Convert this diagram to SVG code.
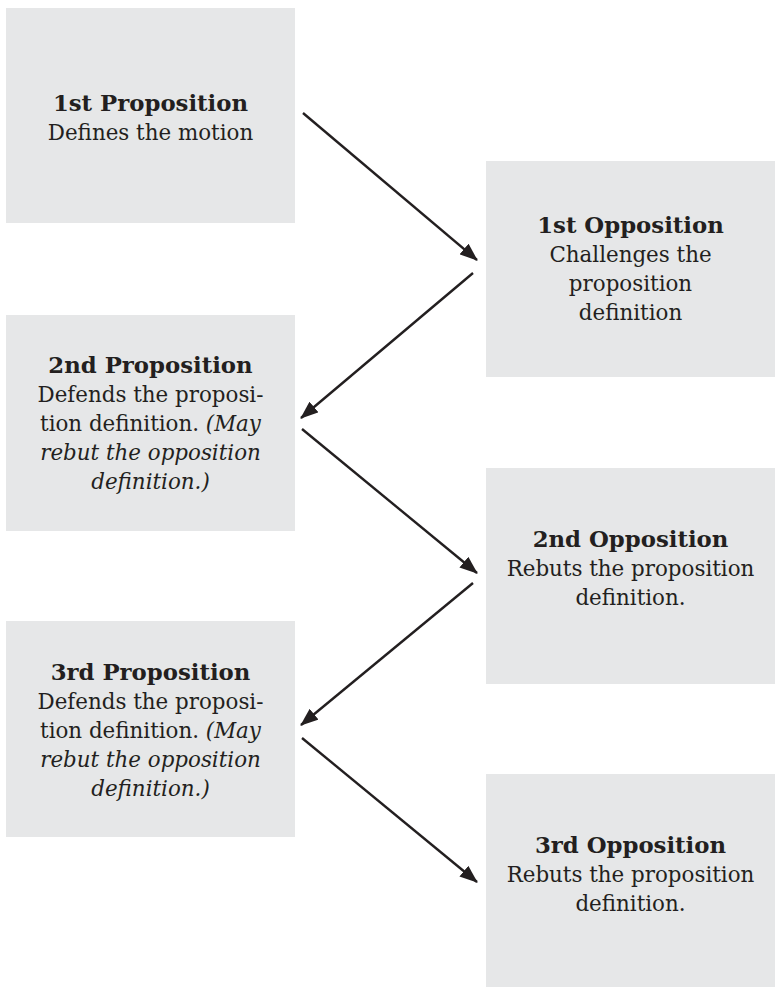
<svg xmlns="http://www.w3.org/2000/svg" width="778" height="987" viewBox="0 0 778 987">
<style>
.box{fill:#e6e7e8}
text{font-family:"DejaVu Serif","Liberation Serif",serif;font-size:21.4px;fill:#231f20;text-anchor:middle}
.t{font-weight:bold;font-size:22.8px}
.i{font-style:italic}
.c{stroke:#231f20;stroke-width:2.4;fill:none}
</style>
<defs>
<marker id="ah" viewBox="0 0 18 14" refX="17" refY="7" markerWidth="18" markerHeight="14" markerUnits="userSpaceOnUse" orient="auto">
<path d="M0,0 L18,7 L0,14 Z" fill="#231f20"/>
</marker>
</defs>
<g id="prop1">
<rect class="box" x="6" y="8" width="289" height="215"/>
<text x="150.5" y="111" class="t">1st Proposition</text>
<text x="150.5" y="140">Defines the motion</text>
</g>
<g id="opp1">
<rect class="box" x="486" y="161" width="289" height="216"/>
<text x="630.5" y="233" class="t">1st Opposition</text>
<text x="630.5" y="262">Challenges the</text>
<text x="630.5" y="291">proposition</text>
<text x="630.5" y="320">definition</text>
</g>
<g id="prop2">
<rect class="box" x="6" y="315" width="289" height="216"/>
<text x="150.5" y="373" class="t">2nd Proposition</text>
<text x="150.5" y="402">Defends the proposi-</text>
<text x="150.5" y="431">tion definition. <tspan class="i">(May</tspan></text>
<text x="150.5" y="460" class="i">rebut the opposition</text>
<text x="150.5" y="489" class="i">definition.)</text>
</g>
<g id="opp2">
<rect class="box" x="486" y="468" width="289" height="216"/>
<text x="630.5" y="547" class="t">2nd Opposition</text>
<text x="630.5" y="576">Rebuts the proposition</text>
<text x="630.5" y="605">definition.</text>
</g>
<g id="prop3">
<rect class="box" x="6" y="621" width="289" height="216"/>
<text x="150.5" y="680" class="t">3rd Proposition</text>
<text x="150.5" y="709">Defends the proposi-</text>
<text x="150.5" y="738">tion definition. <tspan class="i">(May</tspan></text>
<text x="150.5" y="767" class="i">rebut the opposition</text>
<text x="150.5" y="796" class="i">definition.)</text>
</g>
<g id="opp3">
<rect class="box" x="486" y="774" width="289" height="213"/>
<text x="630.5" y="853" class="t">3rd Opposition</text>
<text x="630.5" y="882">Rebuts the proposition</text>
<text x="630.5" y="911">definition.</text>
</g>
<g id="connectors">
<line class="c" x1="303" y1="113" x2="477" y2="260" marker-end="url(#ah)"/>
<line class="c" x1="473" y1="273" x2="301" y2="418" marker-end="url(#ah)"/>
<line class="c" x1="302" y1="429" x2="477" y2="573" marker-end="url(#ah)"/>
<line class="c" x1="473" y1="583" x2="301" y2="725" marker-end="url(#ah)"/>
<line class="c" x1="302" y1="738" x2="477" y2="882" marker-end="url(#ah)"/>
</g>
</svg>
